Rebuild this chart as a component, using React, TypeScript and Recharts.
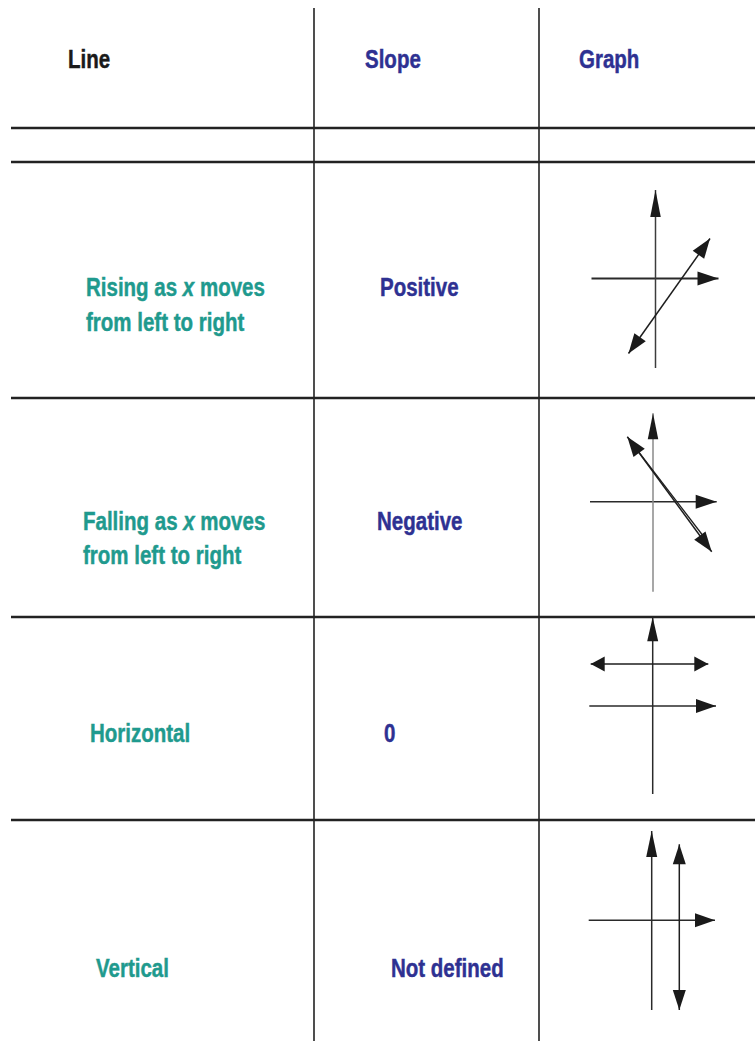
import React from "react";
import { LineChart, Line, XAxis, YAxis } from "recharts";

// ---------- table content ----------
const headers = ["Line", "Slope", "Graph"];
const descriptions: string[][][] = [
  [["Rising as ", "x", " moves"], ["from left to right"]],
  [["Falling as ", "x", " moves"], ["from left to right"]],
  [["Horizontal"]],
  [["Vertical"]],
];
const slopes = ["Positive", "Negative", "0", "Not defined"];

// ---------- graph data (units: 1 = 10px, origin at the axes' crossing, y up) ----------
type P = { x: number; y: number };
const risingXAxis: P[] = [{ x: -6.4, y: 0 }, { x: 6.3, y: 0 }];
const risingYAxis: P[] = [{ x: 0, y: -8.95 }, { x: 0, y: 8.85 }];
const risingLine: P[] = [{ x: -2.7, y: -7.5 }, { x: 5.45, y: 4.0 }];

const fallingXAxis: P[] = [{ x: -6.3, y: 0 }, { x: 6.37, y: 0 }];
const fallingYAxis: P[] = [{ x: 0, y: -9.0 }, { x: 0, y: 8.84 }];
const fallingLineA: P[] = [{ x: -2.57, y: 6.5 }, { x: 5.87, y: -5.0 }];
const fallingLineB: P[] = [{ x: -2.2, y: 5.99 }, { x: 5.25, y: -3.73 }];

const horizontalXAxis: P[] = [{ x: -6.34, y: 0 }, { x: 6.33, y: 0 }];
const horizontalYAxis: P[] = [{ x: 0, y: -8.8 }, { x: 0, y: 8.87 }];
const horizontalLine: P[] = [{ x: -6.2, y: 4.2 }, { x: 5.56, y: 4.2 }];

const verticalXAxis: P[] = [{ x: -6.3, y: 0 }, { x: 6.33, y: 0 }];
const verticalYAxis: P[] = [{ x: 0, y: -8.97 }, { x: 0, y: 8.93 }];
const verticalLine: P[] = [{ x: 2.76, y: -8.97 }, { x: 2.76, y: 7.6 }];

// ---------- layout ----------
const W = 755;
const H = 1041;
const colRules = [314, 539];
const rowRules = [128, 162, 398, 617, 820];
const headerX = [68, 365, 579];
const headerBaseline = 68;
const rowText = [
  { descX: 86, slopeX: 380, baselines: [296, 331] },
  { descX: 83, slopeX: 377, baselines: [530, 564] },
  { descX: 90, slopeX: 384, baselines: [742] },
  { descX: 96, slopeX: 391, baselines: [977] },
];
const FONT = "'Liberation Sans', Arial, sans-serif";
const NARROW = 0.82;
const BLUE = "#2e3192";
const TEAL = "#1f9a8e";
const INK = "#1a1a1a";
const SCALE = 10; // px per unit

type Marker = { id: string; len: number; wid: number };
type Seg = { data: P[]; color: string; width: number; start?: string; end?: string };
type Graph = { top: number; bottom: number; ox: number; oy: number; segs: Seg[]; markers: Marker[] };

const graphs: Graph[] = [
  {
    top: 162, bottom: 398, ox: 655.5, oy: 278.5,
    markers: [
      { id: "g1v", len: 27, wid: 10.5 },
      { id: "g1h", len: 21, wid: 14 },
      { id: "g1d", len: 20, wid: 14 },
    ],
    segs: [
      { data: risingXAxis, color: "#2a2a2a", width: 2, end: "g1h" },
      { data: risingYAxis, color: "#3c3c3c", width: 1.5, end: "g1v" },
      { data: risingLine, color: "#1e1e1e", width: 1.5, start: "g1d", end: "g1d" },
    ],
  },
  {
    top: 398, bottom: 617, ox: 653, oy: 501.7,
    markers: [
      { id: "g2v", len: 26, wid: 10.5 },
      { id: "g2h", len: 21, wid: 14 },
      { id: "g2d", len: 20, wid: 14 },
    ],
    segs: [
      { data: fallingXAxis, color: "#2a2a2a", width: 1.5, end: "g2h" },
      { data: fallingYAxis, color: "#8a8a8a", width: 1.5, end: "g2v" },
      { data: fallingLineB, color: "#1e1e1e", width: 1.3 },
      { data: fallingLineA, color: "#1e1e1e", width: 1.5, start: "g2d", end: "g2d" },
    ],
  },
  {
    top: 617, bottom: 820, ox: 652.7, oy: 706,
    markers: [
      { id: "g3v", len: 24, wid: 11 },
      { id: "g3h", len: 20, wid: 14 },
      { id: "g3l", len: 14, wid: 15 },
    ],
    segs: [
      { data: horizontalXAxis, color: "#2a2a2a", width: 1.5, end: "g3h" },
      { data: horizontalYAxis, color: "#2a2a2a", width: 1.5, end: "g3v" },
      { data: horizontalLine, color: "#1e1e1e", width: 1.5, start: "g3l", end: "g3l" },
    ],
  },
  {
    top: 820, bottom: 1041, ox: 651.7, oy: 920.3,
    markers: [
      { id: "g4v", len: 26, wid: 11 },
      { id: "g4h", len: 20, wid: 14 },
      { id: "g4l", len: 20, wid: 13 },
    ],
    segs: [
      { data: verticalXAxis, color: "#2a2a2a", width: 1.5, end: "g4h" },
      { data: verticalYAxis, color: "#2a2a2a", width: 1.5, end: "g4v" },
      { data: verticalLine, color: "#1e1e1e", width: 1.5, start: "g4l", end: "g4l" },
    ],
  },
];

const cellLeft = colRules[1];
const cellWidth = W - cellLeft;

function MiniGraph({ g }: { g: Graph }) {
  const h = g.bottom - g.top;
  const xDomain: [number, number] = [(cellLeft - g.ox) / SCALE, (cellLeft + cellWidth - g.ox) / SCALE];
  const yDomain: [number, number] = [(g.oy - g.bottom) / SCALE, (g.oy - g.top) / SCALE];
  return (
    <div style={{ position: "absolute", left: cellLeft, top: g.top, width: cellWidth, height: h }}>
      <LineChart width={cellWidth} height={h} margin={{ top: 0, right: 0, bottom: 0, left: 0 }}>
        <defs>
          {g.markers.map((m) => (
            <marker
              key={m.id}
              id={m.id}
              markerUnits="userSpaceOnUse"
              markerWidth={m.len}
              markerHeight={m.wid}
              refX={m.len}
              refY={m.wid / 2}
              orient="auto-start-reverse"
              overflow="visible"
            >
              <path d={`M0,0 L${m.len},${m.wid / 2} L0,${m.wid} Z`} fill="#1a1a1a" />
            </marker>
          ))}
        </defs>
        <XAxis type="number" dataKey="x" domain={xDomain} hide allowDataOverflow />
        <YAxis type="number" dataKey="y" domain={yDomain} hide allowDataOverflow />
        {g.segs.map((s, i) => (
          <Line
            key={i}
            data={s.data}
            dataKey="y"
            type="linear"
            stroke={s.color}
            strokeWidth={s.width}
            dot={false}
            activeDot={false}
            isAnimationActive={false}
            markerStart={s.start ? `url(#${s.start})` : undefined}
            markerEnd={s.end ? `url(#${s.end})` : undefined}
          />
        ))}
      </LineChart>
    </div>
  );
}

function NText({ x, y, fill, children }: { x: number; y: number; fill: string; children: React.ReactNode }) {
  return (
    <text
      transform={`translate(${x},${y}) scale(${NARROW},1)`}
      x={0}
      y={0}
      fill={fill}
      stroke={fill}
      strokeWidth={0.45}
      fontFamily={FONT}
      fontWeight={700}
      fontSize={25}
    >
      {children}
    </text>
  );
}

export default function App() {
  return (
    <div style={{ position: "absolute", left: 0, top: 0, width: W, height: H, background: "#fff", overflow: "hidden" }}>
      <svg width={W} height={H} style={{ position: "absolute", left: 0, top: 0 }}>
        {colRules.map((x) => (
          <line key={"c" + x} x1={x} x2={x} y1={8} y2={H} stroke="#222" strokeWidth={1.6} />
        ))}
        {rowRules.map((y) => (
          <line key={"r" + y} x1={11} x2={W} y1={y} y2={y} stroke="#222" strokeWidth={2.6} />
        ))}
        {headers.map((t, i) => (
          <NText key={t} x={headerX[i]} y={headerBaseline} fill={i === 0 ? INK : BLUE}>
            {t}
          </NText>
        ))}
        {descriptions.map((lines, r) => (
          <g key={r}>
            {lines.map((segs, li) => (
              <NText key={li} x={rowText[r].descX} y={rowText[r].baselines[li]} fill={TEAL}>
                {segs.map((s, k) => (
                  <tspan key={k} fontStyle={k % 2 === 1 ? "italic" : "normal"}>
                    {s}
                  </tspan>
                ))}
              </NText>
            ))}
            <NText x={rowText[r].slopeX} y={rowText[r].baselines[0]} fill={BLUE}>
              {slopes[r]}
            </NText>
          </g>
        ))}
      </svg>
      {graphs.map((g, i) => (
        <MiniGraph key={i} g={g} />
      ))}
    </div>
  );
}
